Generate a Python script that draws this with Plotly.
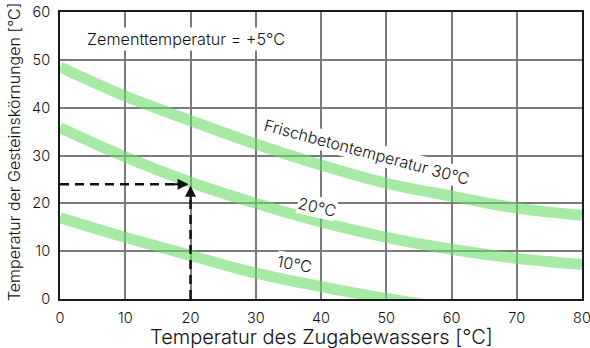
import plotly.graph_objects as go

# ---- data ----
x_water = [0, 10, 20, 30, 40, 50, 60, 70, 80]
t_fresh30 = [48.5, 42.4, 37.3, 32.4, 28.0, 24.2, 21.5, 19.0, 17.5]
t_fresh20 = [35.8, 29.7, 24.4, 20.0, 16.1, 12.9, 10.4, 8.5, 7.2]
x_water10 = [0, 10, 20, 30, 40, 50, 60]
t_fresh10 = [17.0, 12.9, 9.1, 5.4, 2.6, 0.1, -2.0]

example_water = 20
example_aggregate = 24

x_ticks = [0, 10, 20, 30, 40, 50, 60, 70, 80]
y_ticks = [0, 10, 20, 30, 40, 50, 60]

GREEN = "rgba(107,220,107,0.6)"
FONT = "Inter"
W = 300
TXT = "#111111"

fig = go.Figure()
for xs, ys in [(x_water, t_fresh30), (x_water, t_fresh20), (x_water10, t_fresh10)]:
    fig.add_trace(go.Scatter(x=xs, y=ys, mode="lines",
                             line=dict(color=GREEN, width=11, shape="spline"),
                             hoverinfo="skip", showlegend=False))

# dashed reading example
fig.add_trace(go.Scatter(x=[0, example_water - 0.6], y=[example_aggregate, example_aggregate],
                         mode="lines", line=dict(color="#111", width=2.5, dash="9px,6px"),
                         showlegend=False, hoverinfo="skip"))
fig.add_trace(go.Scatter(x=[example_water, example_water], y=[0, example_aggregate - 0.8],
                         mode="lines", line=dict(color="#111", width=2.5, dash="9px,6px"),
                         showlegend=False, hoverinfo="skip"))
fig.add_annotation(x=example_water - 0.3, y=example_aggregate, ax=example_water - 3, ay=example_aggregate,
                   axref="x", ayref="y", xref="x", yref="y", text="", showarrow=True,
                   arrowhead=2, arrowsize=1.1, arrowwidth=2, arrowcolor="#111")
fig.add_annotation(x=example_water, y=example_aggregate - 0.3, ax=example_water, ay=example_aggregate - 4,
                   axref="x", ayref="y", xref="x", yref="y", text="", showarrow=True,
                   arrowhead=2, arrowsize=1.1, arrowwidth=2, arrowcolor="#111")

labels = [
    ("Frischbetontemperatur 30°C", 47.1, 30.7, 15),
    ("20°C", 39.4, 19.3, 13),
    ("10°C", 36.0, 7.3, 10),
]
for txt, lx, ly, ang in labels:
    fig.add_annotation(x=lx, y=ly, text=txt, showarrow=False, textangle=ang,
                       bgcolor="white", borderpad=0,
                       font=dict(family=FONT, size=16, color=TXT, weight=W))

fig.add_annotation(x=19.3, y=54.4, text="Zementtemperatur = +5°C", showarrow=False,
                   bgcolor="white", borderpad=1,
                   font=dict(family=FONT, size=16.2, color=TXT, weight=W))

# axis titles
fig.add_annotation(text="Temperatur des Zugabewassers [°C]", xref="paper", yref="paper",
                   x=0.5, y=-0.1324, xanchor="center", yanchor="middle", showarrow=False,
                   font=dict(family=FONT, size=20, color=TXT, weight=W))
fig.add_annotation(text="Temperatur der Gesteinskörnungen [°C]", xref="paper", yref="paper",
                   x=-0.088, y=0.512, xanchor="center", yanchor="middle", showarrow=False,
                   textangle=-90, font=dict(family=FONT, size=16, color=TXT, weight=W))

axis_common = dict(showgrid=True, gridcolor="#7a7a7a", gridwidth=1.5,
                   showline=True, linecolor="#1a1a1a", linewidth=2, mirror=True,
                   zeroline=False, ticks="outside", ticklen=5, tickcolor="rgba(0,0,0,0)",
                   automargin=False, ticklabeloverflow="allow",
                   tickfont=dict(family=FONT, size=14.5, color=TXT, weight=W))

fig.update_xaxes(range=[0, 80], tickvals=x_ticks, **axis_common)
fig.update_yaxes(range=[0, 60], tickvals=y_ticks, **axis_common)

fig.update_layout(width=590, height=348, margin=dict(l=60, r=8, t=12, b=49),
                  plot_bgcolor="white", paper_bgcolor="white", showlegend=False)

fig.write_html("out.html")
